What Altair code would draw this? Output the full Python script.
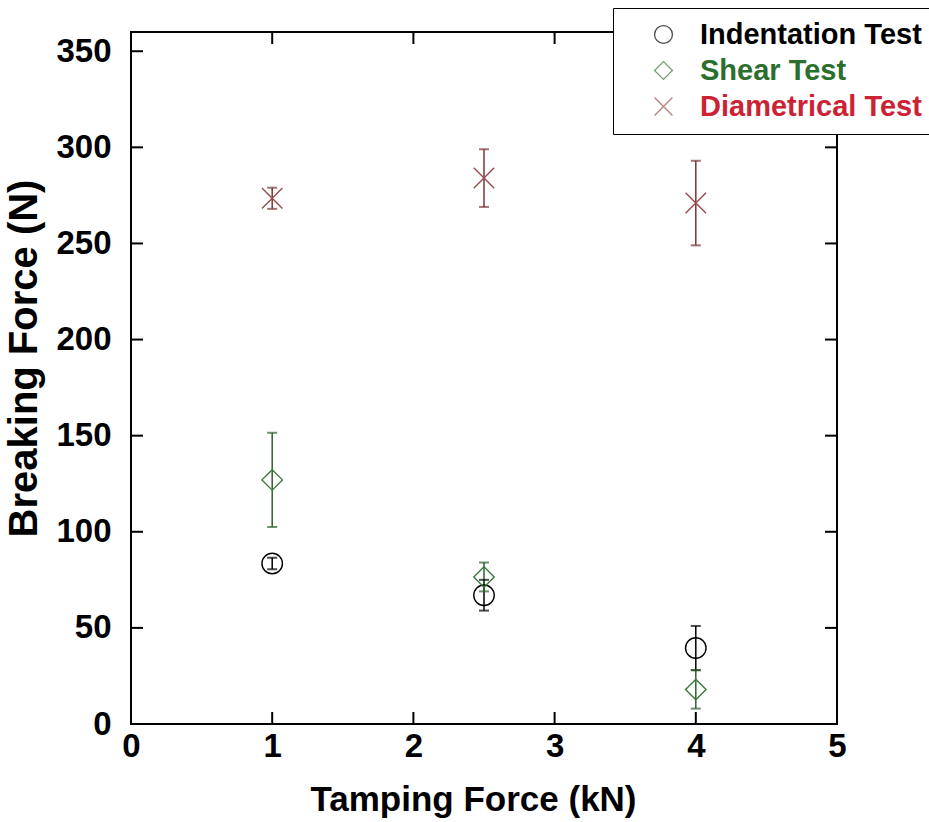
import altair as alt
import pandas as pd

# Breaking force of tablets at three tamping forces, for three test methods
tamping_force = [1.0, 2.5, 4.0]
series_names = ["Indentation Test", "Shear Test", "Diametrical Test"]

indentation_mean = [83.5, 67.0, 39.5]
indentation_err = [3.0, 8.0, 11.5]
shear_mean = [127.0, 76.5, 18.0]
shear_err = [24.5, 7.5, 10.0]
diametrical_mean = [273.5, 284.0, 271.0]
diametrical_err = [5.5, 15.0, 22.0]

x_ticks = [0, 1, 2, 3, 4, 5]
y_ticks = [0, 50, 100, 150, 200, 250, 300, 350]
x_inner_ticks = [1, 2, 3, 4]
y_inner_ticks = [50, 100, 150, 200, 250, 300, 350]

marker_colors = ["#000000", "#3a7a3a", "#9a4a4a"]
bar_colors = ["#000000", "#2f5f2f", "#7a3434"]
marker_shapes = ["circle", "diamond", "M-1,-1L1,1M1,-1L-1,1"]

FONT = "Liberation Sans"
W, H = 706, 692

rows = []
for name, means, errs, bcol in zip(
    series_names,
    [indentation_mean, shear_mean, diametrical_mean],
    [indentation_err, shear_err, diametrical_err],
    bar_colors,
):
    for x, m, e in zip(tamping_force, means, errs):
        rows.append({"series": name, "x": x, "y": m, "err": e, "bar_color": bcol})
df = pd.DataFrame(rows)

x_scale = alt.Scale(domain=[0, 5], nice=False, zero=False)
y_scale = alt.Scale(domain=[0, 360], nice=False, zero=False)

base = alt.Chart(df).transform_calculate(
    lo="datum.y - datum.err", hi="datum.y + datum.err"
)

x_enc = alt.X(
    "x:Q",
    scale=x_scale,
    title="Tamping Force (kN)",
    axis=alt.Axis(
        values=x_ticks, format="d", grid=False, domain=False, ticks=False,
        labelFont=FONT, labelFontSize=33, labelFontWeight="bold", labelColor="black",
        labelPadding=6, labelFlush=False,
        titleFont=FONT, titleFontSize=35, titleFontWeight="bold", titleColor="black",
        titlePadding=19, titleX=342,
    ),
)
y_axis = alt.Axis(
    values=y_ticks, format="d", grid=False, domain=False, ticks=False,
    labelFont=FONT, labelFontSize=33, labelFontWeight="bold", labelColor="black",
    labelPadding=20, labelFlush=False,
    titleFont=FONT, titleFontSize=40, titleFontWeight="bold", titleColor="black",
    titlePadding=11, titleY=326,
)

bars = base.mark_rule(strokeWidth=1.5).encode(
    x=x_enc,
    y=alt.Y("lo:Q", scale=y_scale, title="Breaking Force (N)", axis=y_axis),
    y2="hi:Q",
    color=alt.Color("bar_color:N", scale=None),
)
caps_lo = base.mark_tick(size=10, thickness=2, orient="horizontal").encode(
    x="x:Q", y="lo:Q", color=alt.Color("bar_color:N", scale=None)
)
caps_hi = base.mark_tick(size=10, thickness=2, orient="horizontal").encode(
    x="x:Q", y="hi:Q", color=alt.Color("bar_color:N", scale=None)
)

legend = alt.Legend(
    title=None, orient="none", legendX=482, legendY=-24,
    direction="vertical",
    strokeColor="black", fillColor="white", padding=12,
    labelFont=FONT, labelFontSize=29, labelFontWeight="bold",
    labelColor=alt.ExprRef(
        expr="datum.label === 'Shear Test' ? '#2c6e2e' : "
             "datum.label === 'Diametrical Test' ? '#cc2233' : '#000000'"
    ),
    labelLimit=500, labelOffset=22,
    symbolSize=320, symbolStrokeWidth=1.3, symbolOffset=24,
    rowPadding=6,
)

points = base.mark_point(filled=False, size=420, strokeWidth=1.4, opacity=1).encode(
    x="x:Q",
    y="y:Q",
    color=alt.Color(
        "series:N",
        scale=alt.Scale(domain=series_names, range=marker_colors),
        sort=series_names,
        legend=legend,
    ),
    shape=alt.Shape(
        "series:N",
        scale=alt.Scale(domain=series_names, range=marker_shapes),
        sort=series_names,
        legend=legend,
    ),
)

# inward-pointing ticks on all four sides of the frame
xt = pd.DataFrame({"t": x_inner_ticks})
yt = pd.DataFrame({"t": y_inner_ticks})
tick_style = dict(color="black", strokeWidth=2)
x_bottom = alt.Chart(xt).mark_rule(**tick_style).encode(
    x=alt.X("t:Q", scale=x_scale), y=alt.value(H), y2=alt.value(H - 12)
)
x_top = alt.Chart(xt).mark_rule(**tick_style).encode(
    x=alt.X("t:Q", scale=x_scale), y=alt.value(0), y2=alt.value(12)
)
y_left = alt.Chart(yt).mark_rule(**tick_style).encode(
    y=alt.Y("t:Q", scale=y_scale), x=alt.value(0), x2=alt.value(12)
)
y_right = alt.Chart(yt).mark_rule(**tick_style).encode(
    y=alt.Y("t:Q", scale=y_scale), x=alt.value(W), x2=alt.value(W - 12)
)

chart = (
    alt.layer(bars, caps_lo, caps_hi, points, x_bottom, x_top, y_left, y_right)
    .properties(
        width=W, height=H,
        autosize=alt.AutoSizeParams(type="none"),
        padding={"left": 131, "top": 32, "right": 92, "bottom": 98},
        background="white",
    )
    .configure_view(stroke="black", strokeWidth=2)
)

chart.save("out.html", embed_options={"renderer": "svg", "actions": False})
